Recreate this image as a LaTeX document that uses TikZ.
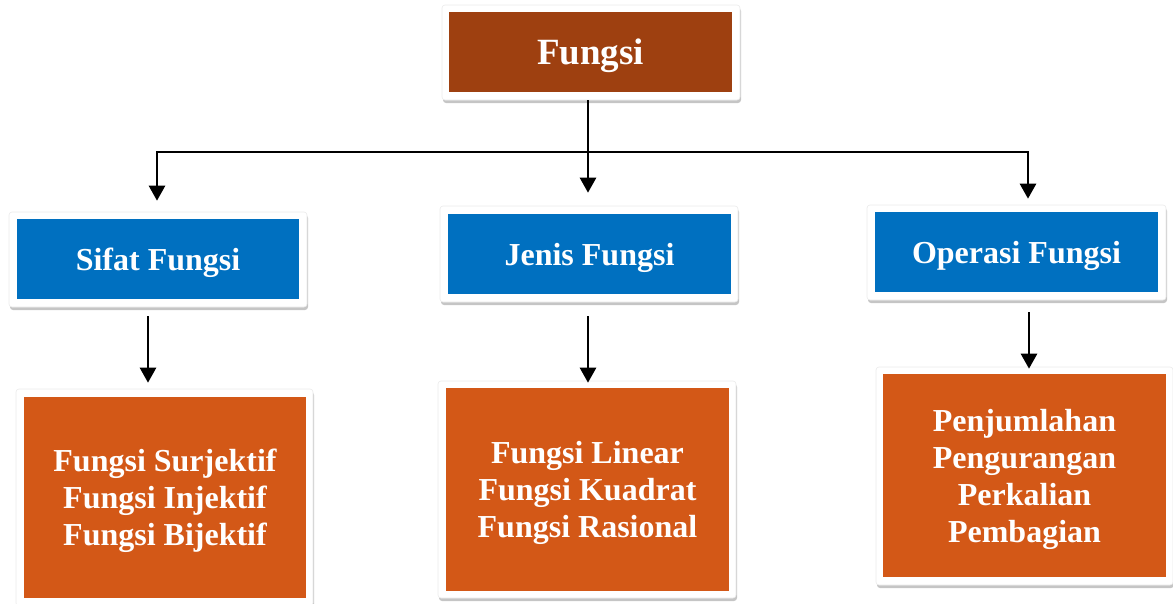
\documentclass[tikz,border=0pt]{standalone}
\usepackage{fontspec}
\setmainfont{Liberation Serif}
\usetikzlibrary{arrows.meta,shadows,calc}
\definecolor{titlebrown}{HTML}{9E4010}
\definecolor{boxblue}{HTML}{0070C0}
\definecolor{boxorange}{HTML}{D35817}
\begin{document}
\begin{tikzpicture}[x=1pt,y=-1pt,
  frame/.style={rectangle, rounded corners=3pt, fill=white, draw=black!8, line width=0.6pt, inner sep=0pt,
    drop shadow={shadow xshift=1pt, shadow yshift=-3pt, fill=black!45, opacity=0.5}},
  inbox/.style={rectangle, inner sep=0pt, text=white, text depth=0pt, font=\bfseries\fontsize{32}{37}\selectfont, align=center},
  conn/.style={line width=2.6pt, black},
  arr/.style={conn, -{Triangle[width=16pt,length=15pt]}}
]
\useasboundingbox (0,0) rectangle (1173,603);
% frames
\node[frame, minimum width=298pt, minimum height=95pt] (fF) at (591,52.5) {};
\node[frame, minimum width=298pt, minimum height=95pt] (fS) at (158,259.5) {};
\node[frame, minimum width=298pt, minimum height=96pt] (fJ) at (589,254) {};
\node[frame, minimum width=299pt, minimum height=95pt] (fO) at (1016.5,252.5) {};
\node[frame, minimum width=297pt, minimum height=217pt] (fSL) at (164.5,497.5) {};
\node[frame, minimum width=298pt, minimum height=217pt] (fJL) at (587,489.5) {};
\node[frame, minimum width=297pt, minimum height=218pt] (fOL) at (1024.5,476) {};
% inner boxes
\node[inbox, fill=titlebrown, minimum width=283pt, minimum height=80pt, font=\bfseries\fontsize{37}{40}\selectfont] (F) at (590.5,52) {Fungsi};
\node[inbox, fill=boxblue, minimum width=282pt, minimum height=80pt] (S) at (158,259) {Sifat Fungsi};
\node[inbox, fill=boxblue, minimum width=283pt, minimum height=80pt] (J) at (589.5,254) {Jenis Fungsi};
\node[inbox, fill=boxblue, minimum width=283pt, minimum height=80pt] (O) at (1016.5,252) {Operasi Fungsi};
\node[inbox, fill=boxorange, minimum width=282pt, minimum height=201pt] (SL) at (165,497.5) {Fungsi Surjektif\\Fungsi Injektif\\Fungsi Bijektif};
\node[inbox, fill=boxorange, minimum width=283pt, minimum height=203pt] (JL) at (587.5,489.5) {Fungsi Linear\\Fungsi Kuadrat\\Fungsi Rasional};
\node[inbox, fill=boxorange, minimum width=283pt, minimum height=203pt] (OL) at (1024.5,475.5) {Penjumlahan\\Pengurangan\\Perkalian\\Pembagian};
% connectors
\coordinate (hub) at (588,152);
\coordinate (hL) at (157,152);
\coordinate (hR) at (1028,152);
\draw[conn] (fF.south -| hub) -- (hub);
\draw[conn, line cap=rect] (hL) -- (hR);
\draw[arr, shorten >=11pt] (hL) -- (hL |- fS.north);
\draw[arr, shorten >=13pt] (hub) -- (hub |- fJ.north);
\draw[arr, shorten >=6pt] (hR) -- (hR |- fO.north);
\draw[arr, shorten <=9pt, shorten >=6pt] ([xshift=-10pt]fS.south) -- ([xshift=-10pt]fS.south |- fSL.north);
\draw[arr, shorten <=14pt, shorten >=-2pt] ([xshift=-1pt]fJ.south) -- ([xshift=-1pt]fJ.south |- fJL.north);
\draw[arr, shorten <=12pt, shorten >=-2pt] ([xshift=12.5pt]fO.south) -- ([xshift=12.5pt]fO.south |- fOL.north);
\end{tikzpicture}
\end{document}
